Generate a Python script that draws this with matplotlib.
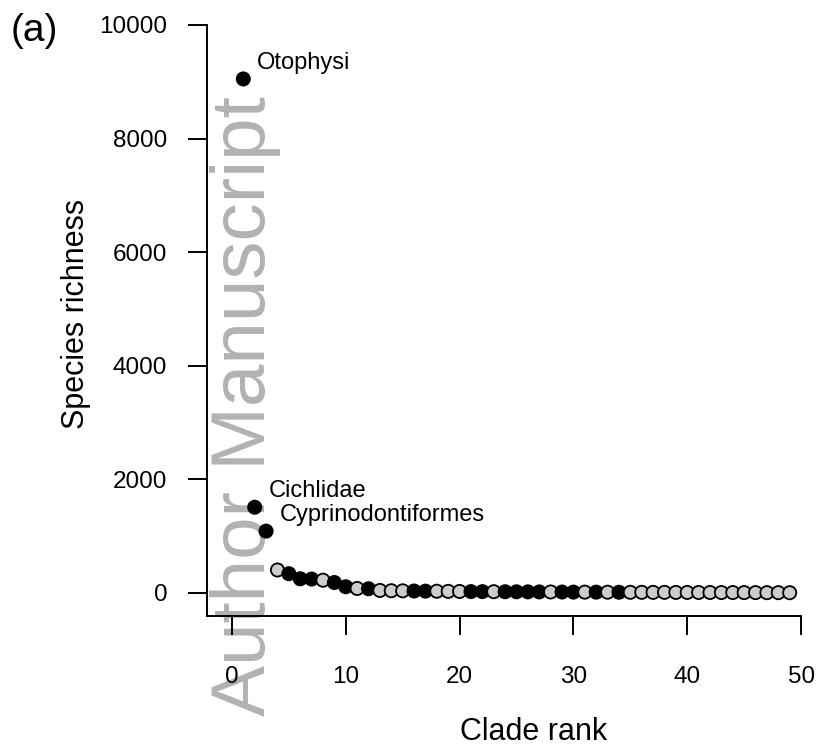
"""Species richness by clade rank, with labelled top clades."""
import matplotlib
matplotlib.use('Agg')
import matplotlib.pyplot as plt

plt.rcParams['font.family'] = ['Liberation Sans', 'DejaVu Sans']

# clade ranks and species richness
ranks = list(range(1, 50))
richness = [9050, 1510, 1090, 405, 340, 250, 245, 225, 185, 110,
            80, 75, 45, 40, 38, 35, 33, 31, 29, 27,
            25, 24, 23, 22, 21, 20, 19, 18, 17, 16,
            15, 15, 14, 13, 12, 12, 11, 11, 10, 10,
            9, 9, 8, 8, 7, 7, 6, 6, 5]
# 1 = black fill, 0 = grey fill
black = [1, 1, 1, 0, 1, 1, 1, 0, 1, 1,
         0, 1, 0, 0, 0, 1, 1, 0, 0, 0,
         1, 1, 0, 1, 1, 1, 1, 0, 1, 1,
         0, 1, 0, 1, 0, 0, 0, 0, 0, 0,
         0, 0, 0, 0, 0, 0, 0, 0, 0]
labels = {1: 'Otophysi', 2: 'Cichlidae', 3: 'Cyprinodontiformes'}

xticks = [0, 10, 20, 30, 40, 50]
yticks = [0, 2000, 4000, 6000, 8000, 10000]


def main():
    W, H = 821, 747
    fig = plt.figure(figsize=(W / 100, H / 100), dpi=100)
    ax = fig.add_axes([207 / W, (H - 616) / H, 1 - 207 / W, 616 / H])
    ax.patch.set_visible(False)

    ax.set_xlim(-2.19, 51.75)
    ax.set_ylim(-405, 10440)

    fills = ['black' if b else '#cccccc' for b in black]
    ax.scatter(ranks, richness, s=90, c=fills, edgecolors='black',
               linewidths=1.3, zorder=3, clip_on=False)

    for r, name in labels.items():
        ax.annotate(name, (r, richness[r - 1]), xytext=(14, 10),
                    textcoords='offset pixels', fontsize=17,
                    ha='left', va='baseline')

    for side in ['top', 'right']:
        ax.spines[side].set_visible(False)
    ax.spines['left'].set_bounds(-405, 10000)
    ax.spines['bottom'].set_bounds(-2.19, 50)
    for side in ['left', 'bottom']:
        ax.spines[side].set_linewidth(1.4)

    ax.set_xticks(xticks)
    ax.set_yticks(yticks)
    ax.tick_params(axis='both', length=13.7, width=1.4, labelsize=17.5)
    ax.tick_params(axis='x', pad=22)
    ax.tick_params(axis='y', pad=15)

    fig.text(534 / W, (H - 740) / H, 'Clade rank', fontsize=22,
             ha='center', va='baseline')
    fig.text(84 / W, (H - 314) / H, 'Species richness', fontsize=22,
             rotation=90, rotation_mode='anchor', ha='center', va='baseline')
    fig.text(11 / W, (H - 31) / H, '(a)', fontsize=28, ha='left', va='center')

    # watermark sits under the data and axes
    ax.text(265 / W, (H - 406) / H, 'Author Manuscript', transform=fig.transFigure,
            fontsize=55, color='#b2b2b2', rotation=90, rotation_mode='anchor',
            ha='center', va='baseline', zorder=0.5, clip_on=False)

    fig.savefig('out.png', dpi=100)


if __name__ == '__main__':
    main()
